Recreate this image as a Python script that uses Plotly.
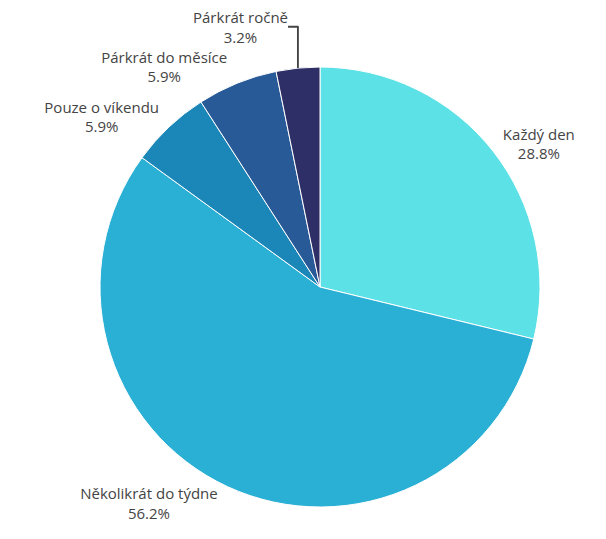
import plotly.graph_objects as go

labels = ["Každý den", "Několikrát do týdne", "Pouze o víkendu", "Párkrát do měsíce", "Párkrát ročně"]
values = [28.8, 56.2, 5.9, 5.9, 3.2]
colors = ["#5CE1E6", "#2BB0D5", "#1A87B8", "#285A98", "#2E2F66"]

fig = go.Figure(go.Pie(
    labels=labels,
    values=values,
    sort=False,
    direction="clockwise",
    rotation=0,
    automargin=False,
    marker=dict(colors=colors, line=dict(color="white", width=1)),
    textposition="outside",
    texttemplate="%{label}<br>%{percent:.1%}",
    textfont=dict(family="Open Sans", size=15, color="#444444"),
    showlegend=False,
    hoverinfo="label+percent",
))
fig.update_layout(
    width=606, height=539,
    margin=dict(l=92, r=74, t=59, b=40, autoexpand=False),
    paper_bgcolor="white",
    font=dict(family="Open Sans", size=15, color="#444444"),
)
fig.write_html("out.html")
